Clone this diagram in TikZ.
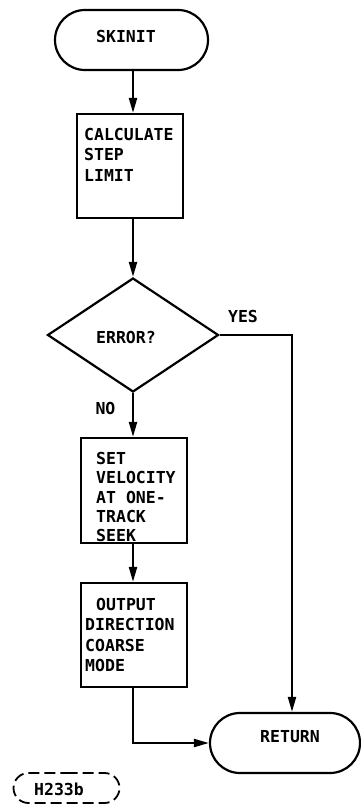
\documentclass[tikz,border=0pt]{standalone}
\usepackage{fontspec}
\newfontfamily\flowmono{DejaVu Sans Mono Bold}
\usetikzlibrary{shapes.geometric,shapes.misc,arrows.meta}
\tikzset{
  flowline/.style={line width=2.2pt},
  arr/.style={flowline,-{Triangle[length=15pt,width=8pt]}},
  term/.style={draw,flowline,rounded rectangle,inner sep=0pt,minimum height=60pt},
  procbox/.style={draw,flowline,rectangle,inner sep=0pt,minimum width=106pt},
  decision/.style={draw,flowline,diamond,inner sep=0pt,minimum width=171pt,minimum height=114pt},
  lbl/.style={inner sep=0pt,font=\flowmono\fontsize{16.5}{20}\selectfont},
  boxtext/.style={lbl,anchor=north west,align=left},
}
\begin{document}
\begin{tikzpicture}[x=1pt,y=-1pt]
\useasboundingbox (0,0) rectangle (361,806);
\coordinate (spine) at (133,0);
\coordinate (yesx) at (292,0);

% boxes first, texts over them
\node[term,minimum width=153pt] (skinit) at (131.5,40) {};
\node[lbl] (skinittxt) at (126,36) {SKINIT};

\node[procbox,minimum height=104pt] (calc) at (130,166) {};
\node[boxtext,font=\flowmono\fontsize{16.5}{20.5}\selectfont] (calctxt) at (84,128) {CALCULATE\\STEP\\LIMIT};

\node[decision] (err) at (133,335) {};
\node[lbl] (errtxt) at (126,337) {ERROR?};
\node[lbl] (yes) at (243,316) {YES};
\node[lbl] (no) at (105.5,408) {NO};

\node[boxtext,font=\flowmono\fontsize{16.5}{19.3}\selectfont] (settxt) at (96,452) {SET\\VELOCITY\\AT ONE-\\TRACK\\SEEK};
\node[procbox,minimum height=105pt] (setv) at (134,490.5) {};

\node[procbox,minimum height=104pt] (outd) at (134,635) {};
\node[boxtext,font=\flowmono\fontsize{16.5}{20.3}\selectfont] (outtxt) at (85,598) {\hspace*{11pt}OUTPUT\\DIRECTION\\COARSE\\MODE};

\node[term,minimum width=150pt] (ret) at (285,743) {};
\node[lbl] (rettxt) at (290,737) {RETURN};

\node[draw,line width=1.8pt,dash pattern=on 11pt off 5pt,rounded rectangle,inner sep=0pt,minimum width=106pt,minimum height=30pt] (ref) at (66.5,788) {};
\node[lbl] (reftxt) at (59,789) {H233b};

% connectors
\draw[arr] (skinit.south -| spine) -- (calc.north -| spine);
\draw[arr] (calc.south -| spine) -- (err.north);
\draw[arr] (err.south) -- (setv.north -| spine);
\draw[arr] (setv.south -| spine) -- (outd.north -| spine);
\draw[arr] (err.east) -- (err.east -| yesx) -- (ret.north -| yesx);
\draw[arr] (outd.south -| spine) |- (ret.west);
\end{tikzpicture}
\end{document}
